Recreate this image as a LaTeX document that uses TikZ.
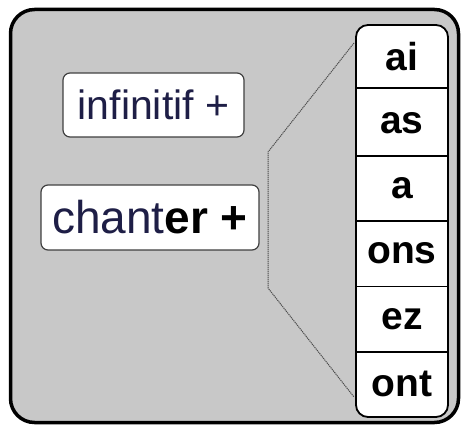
\documentclass[tikz,border=0pt]{standalone}
\usepackage{fontspec}
\setmainfont{Liberation Sans}
\definecolor{bggray}{RGB}{200,200,200}
\definecolor{navytext}{RGB}{30,30,70}
\begin{document}
\begin{tikzpicture}[x=1pt,y=-1pt,
  frame/.style={draw=black, line width=3.5pt, rounded corners=24pt, fill=bggray, inner sep=0pt},
  lbox/.style={draw=black!75, line width=1.2pt, rounded corners=7pt, fill=white, inner sep=0pt, text=navytext},
  colbox/.style={draw=black, line width=1.8pt, rounded corners=12pt, fill=white, inner sep=0pt, minimum width=92pt, minimum height=392pt},
  cell/.style={minimum width=92pt, minimum height=65.33pt, inner sep=0pt, font=\fontsize{39}{42}\selectfont\bfseries},
  divider/.style={draw=black, line width=1.6pt},
  zoomline/.style={draw=black!70, line width=1pt, dash pattern=on 1.2pt off 0.8pt}
]
\useasboundingbox (0,0) rectangle (461,425);
\node[frame, minimum width=448pt, minimum height=413pt] (frame) at (234.5,216) {};
\node[lbox, minimum width=181pt, minimum height=64pt, font=\fontsize{41}{44}\selectfont] (inf) at (153.5,105) {infinitif +};
\node[lbox, minimum width=218pt, minimum height=65pt, font=\fontsize{46}{50}\selectfont] (chanter) at (150,217.5) {chant\textcolor{black}{\textbf{er +}}};
\coordinate (e1) at (354,43);
\coordinate (d1) at (268,152);
\coordinate (d2) at (268,288);
\coordinate (e2) at (354,397);
\draw[zoomline] (e1) -- (d1) -- (d2) -- (e2);
\node[colbox] (col) at (402,221) {};
\node[cell] (c1) at (402,56.67) {ai};
\node[cell] (c2) at (402,123) {as};
\node[cell] (c3) at (402,188.33) {a};
\node[cell] (c4) at (402,253.67) {ons};
\node[cell] (c5) at (402,319) {ez};
\node[cell] (c6) at (402,384.33) {ont};
\coordinate (l1) at (356,88);
\coordinate (r1) at (448,88);
\draw[divider] (l1) -- (r1);
\draw[divider] (c2.south west) -- (c2.south east);
\draw[divider] (c3.south west) -- (c3.south east);
\draw[divider] (c4.south west) -- (c4.south east);
\draw[divider] (c5.south west) -- (c5.south east);
\end{tikzpicture}
\end{document}
